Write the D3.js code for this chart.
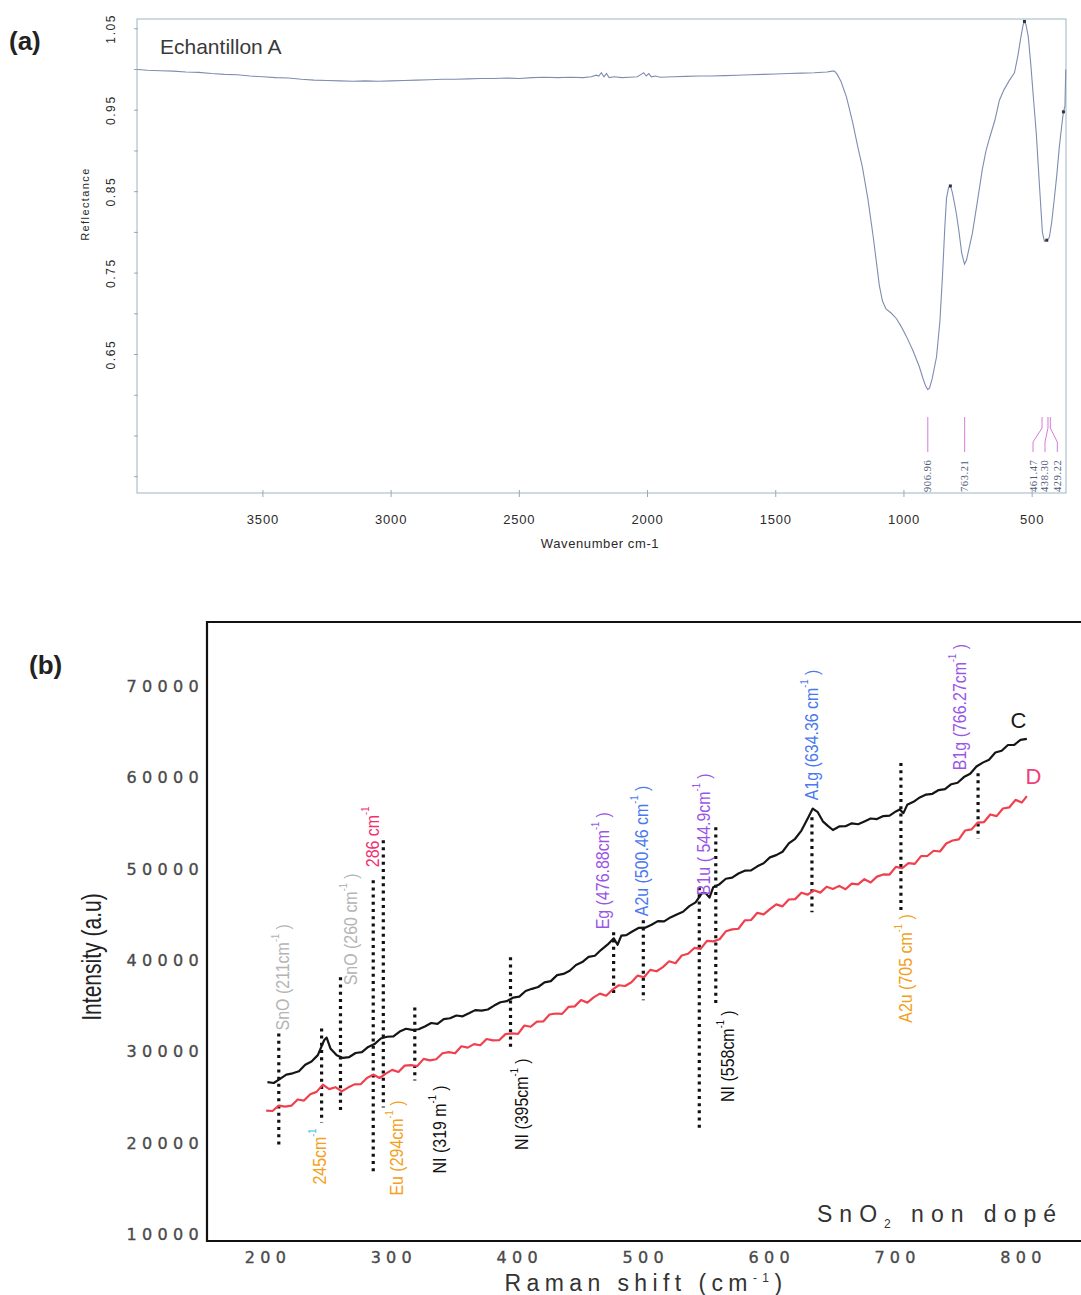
<!DOCTYPE html>
<html>
<head>
<meta charset="utf-8">
<script src="https://cdn.jsdelivr.net/npm/d3@7"></script>
<style>
  html, body { margin: 0; padding: 0; background: #fff; }
  svg { display: block; }
</style>
</head>
<body>
<svg id="fig" width="1081" height="1295"></svg>
<script>
// ---------- Panel (a): IR reflectance spectrum, Echantillon A ----------
const irWavenumber = [3990, 3950, 3900, 3850, 3800, 3750, 3700, 3650, 3600, 3550, 3500, 3450, 3400, 3350, 3300, 3250,
  3200, 3150, 3100, 3050, 3000, 2950, 2900, 2850, 2800, 2750, 2700, 2650, 2600, 2550, 2500, 2450, 2400, 2350, 2300,
  2250, 2220, 2200, 2190, 2180, 2170, 2160, 2150, 2130, 2100, 2070, 2040, 2025, 2015, 2005, 1995, 1985, 1970, 1950,
  1900, 1850, 1800, 1750, 1700, 1650, 1600, 1550, 1500, 1450, 1400, 1350, 1300, 1280, 1271, 1260, 1245, 1224, 1200,
  1180, 1162, 1140, 1120, 1096, 1084, 1070, 1050, 1029, 1010, 990, 965, 940, 925, 915, 907, 900, 890, 873, 860, 850,
  840, 834, 826, 819, 812, 803, 795, 785, 775, 764, 756, 745, 733, 715, 694, 680, 667, 645, 628, 610, 590, 569, 555,
  545, 535, 530, 524, 515, 505, 495, 484, 472, 460, 452, 445, 440, 433, 424, 414, 404, 394, 385, 378, 372, 369];
const irReflectance = [1.000, 0.999, 0.9985, 0.998, 0.997, 0.9965, 0.995, 0.994, 0.9935, 0.992, 0.991, 0.990, 0.9895,
  0.988, 0.987, 0.9865, 0.986, 0.9855, 0.986, 0.9855, 0.986, 0.9865, 0.987, 0.9875, 0.988, 0.988, 0.9885, 0.989, 0.989,
  0.9895, 0.989, 0.990, 0.9905, 0.990, 0.9905, 0.990, 0.991, 0.993, 0.992, 0.996, 0.991, 0.995, 0.990, 0.991, 0.990,
  0.9905, 0.991, 0.994, 0.996, 0.992, 0.995, 0.991, 0.992, 0.9905, 0.991, 0.9915, 0.992, 0.992, 0.9925, 0.993, 0.9935,
  0.994, 0.9945, 0.995, 0.9955, 0.996, 0.997, 0.998, 0.998, 0.994, 0.985, 0.966, 0.935, 0.905, 0.880, 0.840, 0.795,
  0.735, 0.716, 0.706, 0.701, 0.694, 0.684, 0.672, 0.655, 0.635, 0.620, 0.611, 0.607, 0.609, 0.620, 0.647, 0.690, 0.745,
  0.810, 0.842, 0.855, 0.857, 0.850, 0.836, 0.822, 0.800, 0.775, 0.761, 0.766, 0.782, 0.799, 0.835, 0.878, 0.900, 0.915,
  0.938, 0.962, 0.975, 0.986, 0.996, 1.018, 1.038, 1.055, 1.059, 1.055, 1.040, 1.005, 0.965, 0.922, 0.860, 0.800, 0.789,
  0.790, 0.791, 0.794, 0.812, 0.840, 0.870, 0.905, 0.930, 0.948, 0.955, 1.000];
const irMarkerWavenumbers = [530, 819, 443, 378];
const irTicksX = [3500, 3000, 2500, 2000, 1500, 1000, 500];
const irTicksY = [1.05, 0.95, 0.85, 0.75, 0.65];
const irMinorTicksY = [0.50, 0.55, 0.60, 0.65, 0.70, 0.75, 0.80, 0.85, 0.90, 0.95, 1.00, 1.05];
const irPeakPositions = [906.96, 763.21, 461.47, 438.30, 429.22];
const irPeakLabels = ["906.96", "763.21", "461.47", "438.30", "429.22"];

// ---------- Panel (b): Raman spectra C and D, SnO2 non dopé ----------
const shiftC = [202, 207, 212, 217, 222, 227, 232, 237, 242, 247, 249, 252, 257, 262, 267, 272, 277, 282, 287, 292, 297,
  302, 307, 312, 317, 322, 327, 332, 337, 342, 347, 352, 357, 362, 367, 372, 377, 382, 387, 392, 397, 402, 407, 412, 417,
  422, 427, 432, 437, 442, 447, 452, 457, 462, 467, 472, 477, 480, 483, 487, 492, 497, 502, 507, 512, 517, 522, 527, 532,
  537, 542, 547, 550, 553, 556, 561, 566, 571, 576, 581, 586, 591, 596, 601, 606, 611, 616, 621, 626, 631, 635, 639, 643,
  647, 651, 656, 661, 666, 671, 676, 681, 686, 691, 696, 701, 704, 707, 710, 715, 720, 725, 730, 735, 740, 745, 750, 755,
  760, 765, 770, 775, 780, 785, 790, 795, 800, 805];
const intensityC = [26680, 26580, 27040, 27500, 27640, 27860, 28580, 28940, 29630, 31250, 31550, 30360, 29610, 29320,
  29420, 29860, 29950, 30530, 30840, 31450, 31640, 31680, 32210, 32510, 32400, 32460, 32770, 33140, 33050, 33560, 33660,
  33960, 33870, 34200, 34550, 34490, 34620, 35050, 35410, 35530, 35910, 36030, 36640, 36880, 37080, 37590, 37720, 38380,
  38510, 38850, 39490, 39810, 40380, 40500, 41150, 41710, 42400, 41700, 42700, 42760, 43180, 43550, 43570, 43880, 44280,
  44250, 44690, 45010, 45310, 45920, 46340, 47350, 47350, 46850, 48000, 48330, 48920, 49040, 49490, 49800, 49830, 50280,
  50610, 51260, 51500, 51870, 52780, 53290, 54190, 55500, 56600, 56200, 55200, 54700, 54250, 54640, 54660, 54980, 54880,
  55190, 55510, 55450, 55770, 55820, 56280, 56500, 56100, 57000, 57330, 57810, 58130, 58210, 58620, 58720, 59260, 59420,
  60040, 60400, 61190, 61620, 61940, 62720, 62920, 63550, 63570, 64100, 64220];

const shiftD = [201, 206, 211, 216, 221, 226, 231, 236, 241, 246, 251, 256, 261, 266, 271, 276, 281, 286, 291, 296, 301,
  306, 311, 316, 321, 326, 331, 336, 341, 346, 351, 356, 361, 366, 371, 376, 381, 386, 391, 396, 401, 406, 411, 416, 421,
  426, 431, 436, 441, 446, 451, 456, 461, 466, 471, 476, 481, 486, 491, 496, 501, 506, 511, 516, 521, 526, 531, 536, 541,
  546, 551, 556, 561, 566, 571, 576, 581, 586, 591, 596, 601, 606, 611, 616, 621, 626, 631, 636, 641, 646, 651, 656, 661,
  666, 671, 676, 681, 686, 691, 696, 701, 706, 711, 716, 721, 726, 731, 736, 741, 746, 751, 756, 761, 766, 771, 776, 781,
  786, 791, 796, 801, 805];
const intensityD = [23550, 23520, 24100, 24000, 24100, 24780, 24660, 25350, 25610, 26400, 25910, 26120, 25660, 26080,
  26430, 26450, 27120, 27500, 27130, 27610, 28020, 27790, 28480, 28530, 28440, 29220, 29050, 29180, 29830, 29960, 29830,
  30600, 30450, 30830, 30710, 31390, 31240, 31260, 31930, 32010, 31950, 32870, 32730, 33300, 33310, 34070, 34180, 34140,
  34900, 34960, 35650, 35370, 35940, 36360, 36130, 36800, 37270, 37190, 37600, 38330, 38150, 38950, 38800, 39250, 39890,
  39680, 40520, 40710, 41350, 41250, 42130, 42070, 42300, 43170, 43380, 43450, 44370, 44410, 45190, 45020, 45600, 46120,
  45900, 46650, 46690, 47390, 47180, 47660, 47400, 48050, 47800, 48140, 47770, 48380, 48300, 48870, 48510, 49150, 49390,
  49380, 50220, 50070, 50630, 50540, 51400, 51410, 51980, 51900, 52780, 53100, 53230, 54200, 54310, 55060, 55120, 55950,
  55770, 56600, 56720, 57550, 57250, 57950];

const ramanTicksX = [200, 300, 400, 500, 600, 700, 800];
const ramanTicksY = [10000, 20000, 30000, 40000, 50000, 60000, 70000];

// band assignments: position (cm-1), dotted marker extent, label text
const bandPositions = [211, 245, 260, 286, 294, 319, 395, 476.88, 500.46, 544.9, 558, 634.36, 705, 766.27];
const bandTop = [32000, 32550, 38140, 48760, 53140, 34850, 40330, 43060, 44380, 48000, 54560, 55650, 61570, 60470];
const bandBottom = [19520, 22260, 23570, 16670, 23900, 26860, 30140, 36160, 35620, 21380, 35290, 45250, 45250, 53360];
const bandText = ["SnO (211cm", "245cm", "SnO  (260 cm", "286 cm", "Eu (294cm", "NI  (319 m", "NI (395cm",
  "Eg  (476.88cm", "A2u  (500.46 cm", "B1u ( 544.9cm", "NI (558cm", "A1g  (634.36 cm", "A2u  (705 cm", "B1g  (766.27cm"];
const bandClose = [")", "", ")", "", ")", ")", ")", ")", ")", ")", ")", ")", ")", ")"];

// label styling and placement for each band
const bandStyle = [
  { color: "#b4b4b4", side: "top", dx: 4, dy: -3 },
  { color: "#f3a020", side: "bottom", dx: -2, dy: 6, supColor: "#40c0f0" },
  { color: "#b4b4b4", side: "top", dx: 11, dy: 8 },
  { color: "#f0306e", side: "top", dx: 0, dy: -13 },
  { color: "#f3a020", side: "bottom", dx: 14, dy: -7 },
  { color: "#111111", side: "bottom", dx: 25, dy: 5 },
  { color: "#111111", side: "bottom", dx: 11, dy: 8 },
  { color: "#9a55e8", side: "top", dx: -11, dy: -3 },
  { color: "#4a78f0", side: "top", dx: -1, dy: -4 },
  { color: "#9a55e8", side: "top", dx: 5, dy: 8 },
  { color: "#111111", side: "bottom", dx: 12, dy: 7 },
  { color: "#4a78f0", side: "top", dx: 0, dy: -17 },
  { color: "#f3a020", side: "bottom", dx: 5, dy: 2 },
  { color: "#9a55e8", side: "top", dx: -18, dy: -3 }
];

const svg = d3.select("#fig");

// ======================= Panel (a) =======================
const ax = d3.scaleLinear().domain([3991, 368]).range([137, 1066]);
const ay = d3.scaleLinear().domain([0.48, 1.062]).range([493, 19]);
const gA = svg.append("g");
const frameColA = "#a6bccb";
const textColA = "#2a2a2a";

gA.append("rect")
  .attr("x", ax.range()[0]).attr("y", ay.range()[1])
  .attr("width", ax.range()[1] - ax.range()[0]).attr("height", ay.range()[0] - ay.range()[1])
  .attr("fill", "none").attr("stroke", frameColA).attr("stroke-width", 1.1);

// x ticks
gA.selectAll(".xt").data(irTicksX).join("line")
  .attr("x1", d => ax(d)).attr("x2", d => ax(d))
  .attr("y1", ay.range()[0] - 3).attr("y2", ay.range()[0] + 4)
  .attr("stroke", "#9aa8b4").attr("stroke-width", 1);
gA.selectAll(".xl").data(irTicksX).join("text")
  .attr("x", d => ax(d)).attr("y", 524)
  .attr("text-anchor", "middle")
  .attr("font-family", "Liberation Sans, Arial, sans-serif").attr("font-size", 13)
  .attr("letter-spacing", 0.8)
  .attr("fill", textColA).text(d => d);

// y ticks
gA.selectAll(".ytm").data(irMinorTicksY).join("line")
  .attr("x1", ax.range()[0] - 3).attr("x2", ax.range()[0] + 1)
  .attr("y1", d => ay(d)).attr("y2", d => ay(d))
  .attr("stroke", "#9aa8b4").attr("stroke-width", 1);
gA.selectAll(".yl").data(irTicksY).join("text")
  .attr("transform", d => `translate(115,${ay(d)}) rotate(-90)`)
  .attr("text-anchor", "middle")
  .attr("font-family", "Liberation Sans, Arial, sans-serif").attr("font-size", 12)
  .attr("letter-spacing", 1.6)
  .attr("fill", textColA).text(d => d.toFixed(2));

gA.append("text")
  .attr("transform", "translate(89,204) rotate(-90)")
  .attr("text-anchor", "middle")
  .attr("font-family", "Liberation Sans, Arial, sans-serif").attr("font-size", 11)
  .attr("letter-spacing", 1.4)
  .attr("fill", textColA).text("Reflectance");

gA.append("text")
  .attr("x", 600).attr("y", 548).attr("text-anchor", "middle")
  .attr("font-family", "Liberation Sans, Arial, sans-serif").attr("font-size", 13)
  .attr("letter-spacing", 0.6)
  .attr("fill", textColA).text("Wavenumber cm-1");

gA.append("text")
  .attr("x", 160).attr("y", 54)
  .attr("font-family", "Liberation Sans, Arial, sans-serif").attr("font-size", 21)
  .attr("fill", "#3a3a3a").text("Echantillon A");

// spectrum
const irPts = irWavenumber.map((w, i) => [w, irReflectance[i]]);
gA.append("path").datum(irPts)
  .attr("d", d3.line().x(d => ax(d[0])).y(d => ay(d[1])))
  .attr("fill", "none").attr("stroke", "#7e8db0").attr("stroke-width", 1.1);

// picked points, placed on the curve
const irInterp = w => {
  for (let i = 0; i < irWavenumber.length - 1; i++) {
    const a = irWavenumber[i], b = irWavenumber[i + 1];
    if (w <= a && w >= b) {
      const t = (a - w) / (a - b);
      return irReflectance[i] + t * (irReflectance[i + 1] - irReflectance[i]);
    }
  }
  return irReflectance[irReflectance.length - 1];
};
gA.selectAll(".mk").data(irMarkerWavenumbers).join("rect")
  .attr("x", d => ax(d) - 1.5).attr("y", d => ay(irInterp(d)) - 1.5)
  .attr("width", 3).attr("height", 3).attr("fill", "#2d3345");

// peak picks: magenta leaders and rotated labels
const leaderTop = 417, leaderBend1 = 428, leaderBend2 = 442, leaderBottom = 452;
const labelShift = [0, 0, -9, -3, 7];
gA.selectAll(".pk").data(irPeakPositions).join("path")
  .attr("d", (d, i) => {
    const x0 = ax(d), x1 = ax(d) + labelShift[i];
    return `M${x0},${leaderTop}V${leaderBend1}L${x1},${leaderBend2}V${leaderBottom}`;
  })
  .attr("fill", "none").attr("stroke", "#d77ad7").attr("stroke-width", 1);
gA.selectAll(".pkl").data(irPeakPositions).join("text")
  .attr("transform", (d, i) => `translate(${ax(d) + labelShift[i] + 3.5},492) rotate(-90)`)
  .attr("font-family", "Liberation Serif, serif").attr("font-size", 10.5)
  .attr("letter-spacing", 0.6)
  .attr("fill", "#4d5a78").text((d, i) => irPeakLabels[i]);

svg.append("text")
  .attr("x", 9).attr("y", 50)
  .attr("font-family", "Liberation Sans, Arial, sans-serif").attr("font-size", 26).attr("font-weight", "bold")
  .attr("fill", "#222").text("(a)");

// ======================= Panel (b) =======================
const bx = d3.scaleLinear().domain([154, 848]).range([207, 1081]);
const by = d3.scaleLinear().domain([9300, 77000]).range([1241, 622]);
const gB = svg.append("g");
const tickFont = "DejaVu Sans, Verdana, sans-serif";

// axes frame
gB.append("path")
  .attr("d", `M${bx.range()[1]},${by.range()[1]}H${bx.range()[0]}V${by.range()[0]}H${bx.range()[1]}`)
  .attr("fill", "none").attr("stroke", "#111").attr("stroke-width", 2.2);

gB.selectAll(".ryl").data(ramanTicksY).join("text")
  .attr("x", 204).attr("y", d => by(d)).attr("dy", "0.36em")
  .attr("text-anchor", "end")
  .attr("font-family", tickFont).attr("font-size", 16)
  .attr("letter-spacing", 5.3)
  .attr("stroke", "#4a4a4a").attr("stroke-width", 0.35)
  .attr("fill", "#4a4a4a").text(d => d);

gB.selectAll(".rxl").data(ramanTicksX).join("text")
  .attr("x", d => bx(d) + 3).attr("y", 1263)
  .attr("text-anchor", "middle")
  .attr("font-family", tickFont).attr("font-size", 16)
  .attr("letter-spacing", 5.3)
  .attr("stroke", "#4a4a4a").attr("stroke-width", 0.35)
  .attr("fill", "#4a4a4a").text(d => d);

// axis titles
const xTitle = gB.append("text")
  .attr("x", 646).attr("y", 1291).attr("text-anchor", "middle")
  .attr("font-family", "Liberation Sans, Arial, sans-serif").attr("font-size", 23)
  .attr("letter-spacing", 5.4).attr("fill", "#333");
xTitle.append("tspan").text("Raman shift (cm");
xTitle.append("tspan").attr("font-size", 12).attr("dy", -9).text("-1");
xTitle.append("tspan").attr("dy", 9).text(")");

gB.append("text")
  .attr("transform", "translate(101,957) rotate(-90) scale(0.78,1)")
  .attr("text-anchor", "middle")
  .attr("font-family", "Liberation Sans, Arial, sans-serif").attr("font-size", 27)
  .attr("fill", "#222").text("Intensity (a.u)");

const sno = gB.append("text")
  .attr("x", 817).attr("y", 1222)
  .attr("font-family", "Liberation Sans, Arial, sans-serif").attr("font-size", 23)
  .attr("letter-spacing", 7).attr("fill", "#333");
sno.append("tspan").text("SnO");
sno.append("tspan").attr("font-size", 12).attr("dy", 6).text("2");
sno.append("tspan").attr("dy", -6).text(" non dopé");

// dotted band markers
gB.selectAll(".band").data(bandPositions).join("line")
  .attr("x1", d => bx(d)).attr("x2", d => bx(d))
  .attr("y1", (d, i) => by(bandTop[i])).attr("y2", (d, i) => by(bandBottom[i]))
  .attr("stroke", "#111").attr("stroke-width", 3.2)
  .attr("stroke-dasharray", "3,4.2");

// spectra
const lineB = d3.line().x(d => bx(d[0])).y(d => by(d[1]));
gB.append("path").datum(shiftD.map((s, i) => [s, intensityD[i]]))
  .attr("d", lineB).attr("fill", "none")
  .attr("stroke", "#f0404e").attr("stroke-width", 2.2).attr("stroke-linejoin", "round");
gB.append("path").datum(shiftC.map((s, i) => [s, intensityC[i]]))
  .attr("d", lineB).attr("fill", "none")
  .attr("stroke", "#151515").attr("stroke-width", 2.2).attr("stroke-linejoin", "round");

// band labels (rotated, reading upward)
bandPositions.forEach((p, i) => {
  const st = bandStyle[i];
  const x = bx(p) + st.dx;
  const y = st.side === "top" ? by(bandTop[i]) + st.dy : by(bandBottom[i]) + st.dy;
  const t = gB.append("text")
    .attr("transform", `translate(${x + 6},${y}) rotate(-90) scale(0.84,1)`)
    .attr("text-anchor", st.side === "top" ? "start" : "end")
    .attr("font-family", "Liberation Sans, Arial, sans-serif").attr("font-size", 19)
    .attr("fill", st.color);
  t.append("tspan").text(bandText[i]);
  t.append("tspan").attr("font-size", 11).attr("dy", -10)
    .attr("fill", st.supColor || st.color).text("-1");
  if (bandClose[i]) t.append("tspan").attr("dy", 10).text(" " + bandClose[i]);
});

// series labels
gB.append("text").attr("x", bx(792)).attr("y", by(65400))
  .attr("font-family", "Liberation Sans, Arial, sans-serif").attr("font-size", 22)
  .attr("fill", "#1a1a1a").text("C");
gB.append("text").attr("x", bx(804)).attr("y", by(59300))
  .attr("font-family", "Liberation Sans, Arial, sans-serif").attr("font-size", 22)
  .attr("fill", "#f0407a").text("D");

svg.append("text")
  .attr("x", 29).attr("y", 674)
  .attr("font-family", "Liberation Sans, Arial, sans-serif").attr("font-size", 26).attr("font-weight", "bold")
  .attr("fill", "#222").text("(b)");
</script>
</body>
</html>
